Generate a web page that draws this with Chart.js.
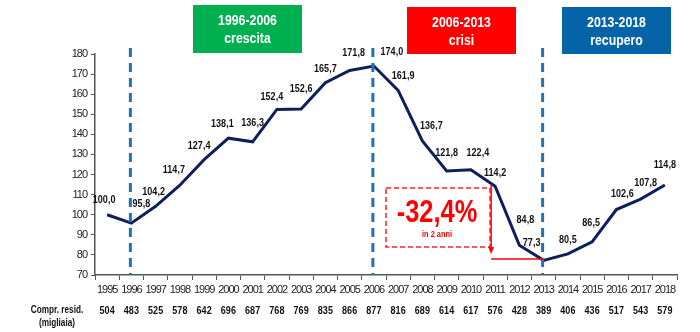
<!DOCTYPE html>
<html>
<head>
<meta charset="utf-8">
<script src="https://cdn.jsdelivr.net/npm/chart.js@4.4.0/dist/chart.umd.min.js"></script>
<style>
html,body{margin:0;padding:0;background:#fff;}
#wrap{width:700px;height:332px;position:relative;}
</style>
</head>
<body>
<div id="wrap"><canvas id="c"></canvas></div>
<script>
// ---- data ----
const years = ['1995','1996','1997','1998','1999','2000','2001','2002','2003','2004','2005','2006','2007','2008','2009','2010','2011','2012','2013','2014','2015','2016','2017','2018'];
const indexValues = [100.0,95.8,104.2,114.7,127.4,138.1,136.3,152.4,152.6,165.7,171.8,174.0,161.9,136.7,121.8,122.4,114.2,84.8,77.3,80.5,86.5,102.6,107.8,114.8];
const comprResid = [504,483,525,578,642,696,687,768,769,835,866,877,816,689,614,617,576,428,389,406,436,517,543,579];
const yTicks = [70,80,90,100,110,120,130,140,150,160,170,180];
const periodYears = ['1996','2006','2013'];
const periodBoxes = [
  {from:'1996', to:'2006', label:'crescita'},
  {from:'2006', to:'2013', label:'crisi'},
  {from:'2013', to:'2018', label:'recupero'}
];
const dropLabel = '-32,4%';
const dropNote = 'in 2 anni';
const rowTitle = ['Compr. resid.', '(migliaia)'];

// ---- styling (not data) ----
const FONT = '"Liberation Sans", Arial, sans-serif';
const NARROW = 0.82;
const labelOffsets = [[-3,-15],[10,-19],[-2,-14],[-6,-15],[-5,-14],[-6,-14],[0,-19],[-5,-12],[0,-20],[0,-14],[4,-18],[18,-14],[5,-14],[9,-15],[0,-18],[7,-17],[0,-13],[6,-25],[-12,-17],[0,-14],[-1,-19],[6,-16],[5,-16],[0,-20]];
const boxStyles = [
  {color:'#00B050', x0:193, x1:302, y0:5, y1:53},
  {color:'#FF0000', x0:407, x1:516, y0:7, y1:54},
  {color:'#0563A8', x0:562, x1:671, y0:7, y1:54}
];

const fmt = v => v.toFixed(1).replace('.', ',');

function narrowText(ctx, text, x, y){
  ctx.save();
  ctx.translate(x, y);
  ctx.scale(NARROW, 1);
  ctx.fillText(text, 0, 0);
  ctx.restore();
}

const condensedTicks = {
  id:'condensedTicks',
  beforeDraw(chart){
    if ('letterSpacing' in chart.ctx) chart.ctx.letterSpacing = '-1px';
  },
  afterDraw(chart){
    if ('letterSpacing' in chart.ctx) chart.ctx.letterSpacing = '0px';
  }
};

const overlay = {
  id:'overlay',
  afterDatasetsDraw(chart){
    const ctx = chart.ctx;
    const xs = chart.scales.x, ys = chart.scales.y;
    ctx.save();
    if ('letterSpacing' in ctx) ctx.letterSpacing = '0px';
    // vertical dashed period lines
    ctx.strokeStyle = '#1F72B8';
    ctx.lineWidth = 3;
    ctx.setLineDash([9,6]);
    periodYears.forEach(y => {
      const x = xs.getPixelForValue(years.indexOf(y)) - 1;
      ctx.beginPath();
      ctx.moveTo(x, 48);
      ctx.lineTo(x, ys.bottom);
      ctx.stroke();
    });
    ctx.setLineDash([]);

    // period boxes
    boxStyles.forEach((b, i) => {
      ctx.fillStyle = b.color;
      ctx.fillRect(b.x0, b.y0, b.x1 - b.x0, b.y1 - b.y0);
      ctx.fillStyle = '#fff';
      ctx.font = 'bold 15px ' + FONT;
      ctx.textAlign = 'center';
      ctx.textBaseline = 'middle';
      const cx = (b.x0 + b.x1) / 2;
      narrowText(ctx, periodBoxes[i].from + '-' + periodBoxes[i].to, cx, b.y0 + 16);
      narrowText(ctx, periodBoxes[i].label, cx, b.y0 + 34);
    });

    // value labels
    ctx.fillStyle = '#111';
    ctx.font = 'bold 11px ' + FONT;
    ctx.textAlign = 'center';
    ctx.textBaseline = 'middle';
    const meta = chart.getDatasetMeta(0);
    meta.data.forEach((pt, i) => {
      const o = labelOffsets[i];
      narrowText(ctx, fmt(indexValues[i]), pt.x + o[0], pt.y + o[1]);
    });

    // drop annotation
    const i11 = years.indexOf('2011'), i13 = years.indexOf('2013');
    const p11 = meta.data[i11], p13 = meta.data[i13];
    ctx.strokeStyle = '#FF2020';
    ctx.lineWidth = 1.5;
    ctx.setLineDash([5,3]);
    ctx.strokeRect(386, 188, 104, 59);
    ctx.setLineDash([]);
    ctx.fillStyle = '#FF0000';
    ctx.font = 'bold 31px ' + FONT;
    narrowText(ctx, dropLabel, 437, 213);
    ctx.font = 'bold 9px ' + FONT;
    narrowText(ctx, dropNote, 437, 235);
    // arrow
    const ax = p11.x - 4;
    ctx.strokeStyle = '#FF0000';
    ctx.lineWidth = 1.5;
    ctx.beginPath();
    ctx.moveTo(ax, p11.y - 2);
    ctx.lineTo(ax, 250);
    ctx.stroke();
    ctx.beginPath();
    ctx.moveTo(ax - 3, 247);
    ctx.lineTo(ax + 3, 247);
    ctx.lineTo(ax, 254);
    ctx.closePath();
    ctx.fill();
    ctx.beginPath();
    ctx.moveTo(ax, 259);
    ctx.lineTo(p13.x - 1, 259);
    ctx.stroke();

    // bottom row
    ctx.fillStyle = '#111';
    ctx.font = 'bold 11px ' + FONT;
    comprResid.forEach((v, i) => {
      narrowText(ctx, String(v), xs.getPixelForValue(i), 311);
    });
    ctx.font = 'bold 10px ' + FONT;
    narrowText(ctx, rowTitle[0], 57, 310);
    narrowText(ctx, rowTitle[1], 57, 323);
    ctx.restore();
  }
};

new Chart(document.getElementById('c'), {
  type:'line',
  data:{
    labels: years,
    datasets:[{
      data: indexValues,
      borderColor:'#0E1F5B',
      borderWidth:3,
      pointRadius:0,
      tension:0,
      fill:false
    }]
  },
  options:{
    responsive:true,
    maintainAspectRatio:false,
    animation:false,
    layout:{padding:{left:0, top:54, right:23, bottom:0}},
    plugins:{legend:{display:false}, tooltip:{enabled:false}},
    scales:{
      x:{
        type:'category',
        offset:true,
        grid:{display:true, offset:true, drawOnChartArea:false, drawTicks:true, tickLength:5, tickColor:'#555', lineWidth:1},
        border:{display:true, color:'#555', width:1.5},
        ticks:{font:{family:FONT, size:11}, color:'#222', padding:3, maxRotation:0, autoSkip:false},
        afterFit(s){ s.height = 57; }
      },
      y:{
        min:70, max:180,
        afterBuildTicks(s){ s.ticks = yTicks.map(v => ({value:v})); },
        grid:{display:true, drawOnChartArea:false, drawTicks:true, tickLength:4, tickColor:'#555'},
        border:{display:true, color:'#555', width:1.5},
        ticks:{font:{family:FONT, size:11}, color:'#222', padding:4},
        afterFit(s){ s.width = 95; }
      }
    }
  },
  plugins:[condensedTicks, overlay]
});
</script>
</body>
</html>
